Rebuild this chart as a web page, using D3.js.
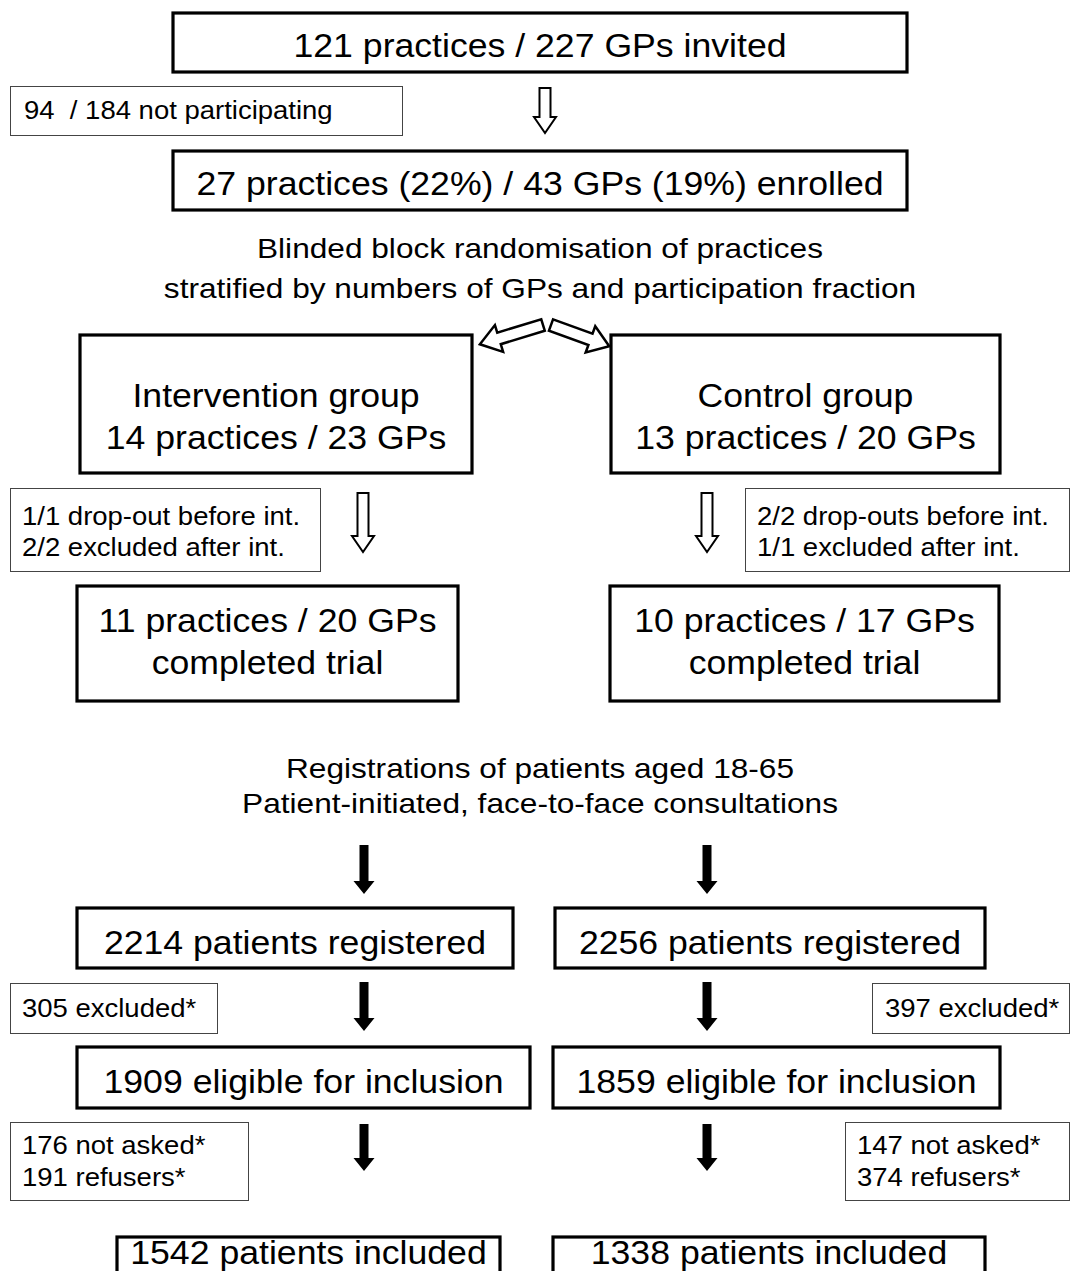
<!DOCTYPE html>
<html><head><meta charset="utf-8">
<script src="https://cdn.jsdelivr.net/npm/d3@7"></script>
<style>body{margin:0;background:#fff}svg{display:block}text{font-family:"Liberation Sans",Arial,sans-serif;fill:#000;white-space:pre}</style>
</head><body><svg id="c" width="1071" height="1271"></svg>
<script>
// ---- content ----
const mainLabels = [
  ["121 practices / 227 GPs invited"],
  ["27 practices (22%) / 43 GPs (19%) enrolled"],
  ["Intervention group", "14 practices / 23 GPs"],
  ["Control group", "13 practices / 20 GPs"],
  ["11 practices / 20 GPs", "completed trial"],
  ["10 practices / 17 GPs", "completed trial"],
  ["2214 patients registered"],
  ["2256 patients registered"],
  ["1909 eligible for inclusion"],
  ["1859 eligible for inclusion"],
  ["1542 patients included"],
  ["1338 patients included"]
];
const sideLabels = [
  ["94  / 184 not participating"],
  ["1/1 drop-out before int.", "2/2 excluded after int."],
  ["2/2 drop-outs before int.", "1/1 excluded after int."],
  ["305 excluded*"],
  ["397 excluded*"],
  ["176 not asked*", "191 refusers*"],
  ["147 not asked*", "374 refusers*"]
];
const freeText = [
  ["Blinded block randomisation of practices", "stratified by numbers of GPs and participation fraction"],
  ["Registrations of patients aged 18-65", "Patient-initiated, face-to-face consultations"]
];

// ---- layout ----
const mainBoxes = [
  {x0:173,x1:907,y0:13,y1:72,base:[57]},
  {x0:173,x1:907,y0:151,y1:210,base:[195]},
  {x0:80,x1:472,y0:335,y1:473,base:[407,449]},
  {x0:611,x1:1000,y0:335,y1:473,base:[407,449]},
  {x0:77,x1:458,y0:586,y1:701,base:[632,674]},
  {x0:610,x1:999,y0:586,y1:701,base:[632,674]},
  {x0:77,x1:513,y0:908,y1:968,base:[954]},
  {x0:555,x1:985,y0:908,y1:968,base:[954]},
  {x0:77,x1:530,y0:1047,y1:1108,base:[1093]},
  {x0:553,x1:1000,y0:1047,y1:1108,base:[1093]},
  {x0:117,x1:500,y0:1237,y1:1290,base:[1264]},
  {x0:553,x1:985,y0:1237,y1:1290,base:[1264]}
];
const sideBoxes = [
  {x0:10,x1:402,y0:86,y1:135,tx:24,base:[119]},
  {x0:10,x1:320,y0:488,y1:571,tx:22,base:[525,556]},
  {x0:745,x1:1069,y0:488,y1:571,tx:757,base:[525,556]},
  {x0:10,x1:217,y0:983,y1:1033,tx:22,base:[1017]},
  {x0:872,x1:1069,y0:983,y1:1033,tx:885,base:[1017]},
  {x0:10,x1:248,y0:1122,y1:1200,tx:22,base:[1154,1186]},
  {x0:845,x1:1069,y0:1122,y1:1200,tx:857,base:[1154,1186]}
];
const freePos = [{cx:540,base:[258,298]},{cx:540,base:[778,813]}];
const openArrows = [{x:545,y0:88,y1:133},{x:363,y0:493,y1:552},{x:707,y0:493,y1:552}];
const solidArrows = [
  {x:364,y0:845,y1:894},{x:707,y0:845,y1:894},
  {x:364,y0:982,y1:1031},{x:707,y0:982,y1:1031},
  {x:364,y0:1124,y1:1171},{x:707,y0:1124,y1:1171}
];
const slantArrows = [
  {x:543,y:325,ang:163,len:66},
  {x:551,y:325,ang:20,len:62}
];

const svg = d3.select("#c");

svg.selectAll("rect.main").data(mainBoxes).join("rect").attr("class","main")
  .attr("x",d=>d.x0).attr("y",d=>d.y0).attr("width",d=>d.x1-d.x0).attr("height",d=>d.y1-d.y0)
  .attr("fill","#fff").attr("stroke","#000").attr("stroke-width",3.2);
svg.selectAll("rect.side").data(sideBoxes).join("rect").attr("class","side")
  .attr("x",d=>d.x0+0.5).attr("y",d=>d.y0+0.5).attr("width",d=>d.x1-d.x0).attr("height",d=>d.y1-d.y0)
  .attr("fill","#fff").attr("stroke","#444").attr("stroke-width",1);

function txt(x,y,t,size,sx,anchor){
  svg.append("text").attr("transform",`translate(${x},${y}) scale(${sx},1)`)
    .attr("text-anchor",anchor).attr("font-size",size).text(t);
}
mainBoxes.forEach((b,i)=>{
  mainLabels[i].forEach((t,j)=> txt((b.x0+b.x1)/2,b.base[j],t,33,1.08,"middle"));
});
sideBoxes.forEach((b,i)=>{
  sideLabels[i].forEach((t,j)=> txt(b.tx,b.base[j],t,25,1.1,"start"));
});
freePos.forEach((p,i)=>{
  freeText[i].forEach((t,j)=> txt(p.cx,p.base[j],t,28,1.13,"middle"));
});

function arrowPath(len, sw, hw, hl){
  return `M0,${-sw}L${len-hl},${-sw}L${len-hl},${-hw}L${len},0L${len-hl},${hw}L${len-hl},${sw}L0,${sw}Z`;
}
svg.selectAll("path.oa").data(openArrows).join("path").attr("class","oa")
  .attr("d",d=>arrowPath(d.y1-d.y0,5.5,11,16))
  .attr("transform",d=>`translate(${d.x},${d.y0}) rotate(90)`)
  .attr("fill","#fff").attr("stroke","#000").attr("stroke-width",2);
svg.selectAll("path.sa").data(slantArrows).join("path").attr("class","sa")
  .attr("d",d=>arrowPath(d.len,6,14,20))
  .attr("transform",d=>`translate(${d.x},${d.y}) rotate(${d.ang})`)
  .attr("fill","#fff").attr("stroke","#000").attr("stroke-width",2.5);
svg.selectAll("path.fa").data(solidArrows).join("path").attr("class","fa")
  .attr("d",d=>arrowPath(d.y1-d.y0,4.5,10.5,13))
  .attr("transform",d=>`translate(${d.x},${d.y0}) rotate(90)`)
  .attr("fill","#000").attr("stroke","none");
</script></body></html>
